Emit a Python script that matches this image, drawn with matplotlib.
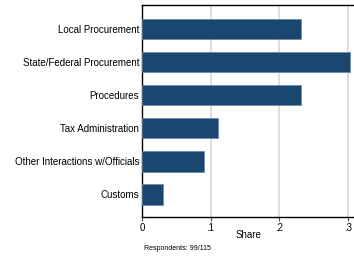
import matplotlib
matplotlib.use("Agg")
import matplotlib.pyplot as plt

# donnees
categories = ["Local Procurement", "State/Federal Procurement", "Procedures",
              "Tax Administration", "Other Interactions w/Officials", "Customs"]
shares = [0.2323, 0.3030, 0.2323, 0.1111, 0.0909, 0.0303]
xticks = [0, 0.1, 0.2, 0.3]
xticklabels = ["0", ".1", ".2", ".3"]
note = "Respondents: 99/115"

plt.rcParams['font.family'] = ['Liberation Sans', 'DejaVu Sans']

fig = plt.figure(figsize=(3.54, 2.58), dpi=100)
W, H = 354, 258
left, right, top, bottom = 142, 354, 5, 217
ax = fig.add_axes([left / W, 1 - bottom / H, (right - left) / W, (bottom - top) / H])

y = list(range(len(categories)))
ax.barh(y, shares, height=0.62, color="#1a476f", edgecolor="#6a88a4",
        linewidth=0.5, zorder=3)

ax.set_ylim(5.68, -0.72)
ax.set_xlim(0, 0.309)
ax.set_yticks(y)
ax.set_yticklabels(categories, fontsize=7)
ax.set_xticks(xticks)
ax.set_xticklabels(xticklabels, fontsize=7)
ax.tick_params(axis='y', length=0, pad=2)
ax.tick_params(axis='x', length=3, width=0.8, color="#555555", pad=1.5)

ax.grid(axis='x', color="#d4d4d4", linewidth=1.1, zorder=0)
for s in ["left", "bottom", "top"]:
    ax.spines[s].set_color("black")
    ax.spines[s].set_linewidth(1.0)
ax.spines["right"].set_visible(False)

ax.set_xlabel("Share", fontsize=7, labelpad=-2)
fig.text(144 / W, 1 - 249 / H, note, fontsize=5, va='center', ha='left')

fig.savefig("out.png", dpi=100)
